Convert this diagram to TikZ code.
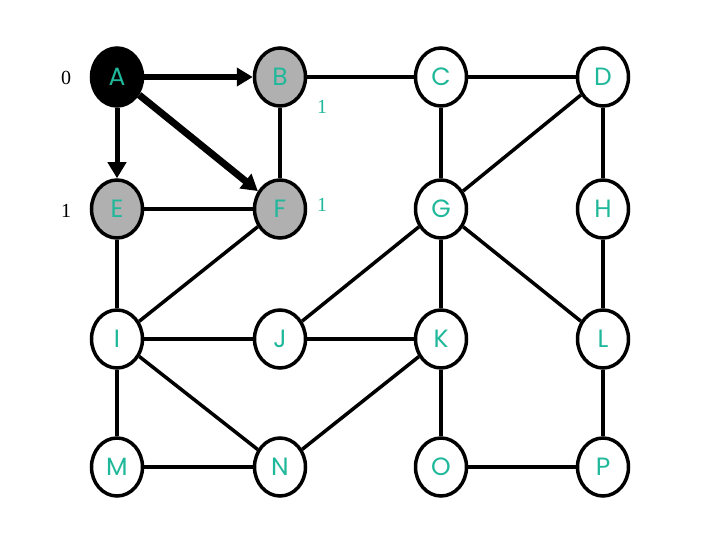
\documentclass[tikz,border=0pt]{standalone}
\usepackage{fontspec}
\usepackage{tikz}
\usetikzlibrary{arrows.meta,shapes.geometric}
\setmainfont{Liberation Serif}
\newfontfamily\lblfont{Poppins}
\definecolor{labelteal}{HTML}{1FB89A}
\definecolor{visitgray}{HTML}{B0B0B0}
\tikzset{
        v_node/.style={ellipse, draw=black, line width=3.5pt, minimum width=51pt,
                       minimum height=58pt, inner sep=0pt, fill=white,
                       font=\lblfont\fontsize{25}{25}\selectfont, text=labelteal},
        v_src/.style={v_node, fill=black},
        v_seen/.style={v_node, fill=visitgray},
        e_line/.style={line width=3.5pt, draw=black},
        e_bfs/.style={draw=black, -{Triangle[length=16pt,width=18pt]}},
        d_text/.style={font=\fontsize{20}{20}\selectfont, inner sep=0pt}
    }
\begin{document}
\begin{tikzpicture}[x=1pt, y=-1pt]
    \useasboundingbox (0,0) rectangle (720,540);
    % vertices
    \node[v_src]  (a) at (117,77)  {A};
    \node[v_seen] (b) at (280,77)  {B};
    \node[v_node] (c) at (441,77)  {C};
    \node[v_node] (d) at (603,77)  {D};
    \node[v_seen] (e) at (117,209) {E};
    \node[v_seen] (f) at (280,209) {F};
    \node[v_node] (g) at (441,209) {G};
    \node[v_node] (h) at (603,209) {H};
    \node[v_node] (i) at (117,339) {I};
    \node[v_node] (j) at (280,339) {J};
    \node[v_node] (k) at (441,339) {K};
    \node[v_node] (l) at (603,339) {L};
    \node[v_node] (m) at (117,467) {M};
    \node[v_node] (n) at (280,467) {N};
    \node[v_node] (o) at (441,467) {O};
    \node[v_node] (p) at (603,467) {P};
    % plain edges
    \draw[e_line] (b) -- (c);
    \draw[e_line] (b) -- (f);
    \draw[e_line] (c) -- (d);
    \draw[e_line] (c) -- (g);
    \draw[e_line] (d) -- (g);
    \draw[e_line] (d) -- (h);
    \draw[e_line] (e) -- (f);
    \draw[e_line] (e) -- (i);
    \draw[e_line] (f) -- (i);
    \draw[e_line] (g) -- (j);
    \draw[e_line] (g) -- (k);
    \draw[e_line] (g) -- (l);
    \draw[e_line] (h) -- (l);
    \draw[e_line] (i) -- (j);
    \draw[e_line] (j) -- (k);
    \draw[e_line] (i) -- (m);
    \draw[e_line] (i) -- (n);
    \draw[e_line] (k) -- (n);
    \draw[e_line] (k) -- (o);
    \draw[e_line] (l) -- (p);
    \draw[e_line] (m) -- (n);
    \draw[e_line] (o) -- (p);
    % bfs tree edges
    \draw[e_bfs, line width=6pt] (a) -- (b);
    \draw[e_bfs, line width=5pt] (a) -- (e);
    \draw[e_bfs, line width=7pt] (a) -- (f);
    % distances
    \node[d_text] (da) at (66,78)  {0};
    \node[d_text] (de) at (66,211) {1};
    \node[d_text, text=labelteal] (db) at (322,107) {1};
    \node[d_text, text=labelteal] (df) at (322,205) {1};
\end{tikzpicture}
\end{document}
